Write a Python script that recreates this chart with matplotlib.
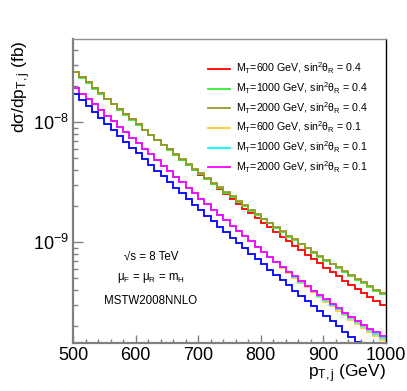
import matplotlib
matplotlib.use('Agg')
import matplotlib.pyplot as plt
import numpy as np
from matplotlib.ticker import FixedLocator, LogLocator, MultipleLocator, NullFormatter

plt.rcParams['font.family'] = ['Liberation Sans', 'DejaVu Sans']
plt.rcParams['mathtext.fontset'] = 'custom'
plt.rcParams['mathtext.rm'] = 'Liberation Sans'
plt.rcParams['mathtext.it'] = 'Liberation Sans:italic'

# p_T,j bins (GeV), 10 GeV wide
bin_edges = np.arange(500, 1001, 10)

# dsigma/dp_T,j in units of 1e-10 fb
mt600_s04 = [263, 237, 214, 193, 174, 157, 142, 128, 116, 105,
             95.4, 86.6, 78.6, 71.4, 64.9, 59.1, 53.6, 48.6, 44.2, 40.1,
             36.5, 33.2, 30.2, 27.4, 25.0, 22.8, 20.8, 19.0, 17.4, 15.9,
             14.5, 13.3, 12.1, 11.1, 10.1, 9.33, 8.56, 7.85, 7.21, 6.63,
             6.09, 5.61, 5.17, 4.77, 4.39, 4.06, 3.75, 3.46, 3.20, 2.96]
mt1000_s04 = [259, 233, 211, 190, 171, 155, 140, 126, 114, 103,
              94.0, 85.3, 77.4, 70.3, 63.9, 58.2, 53.0, 48.3, 44.0, 40.2,
              36.7, 33.6, 30.7, 28.1, 25.7, 23.6, 21.7, 19.9, 18.3, 16.8,
              15.5, 14.3, 13.1, 12.1, 11.1, 10.3, 9.54, 8.83, 8.17, 7.56,
              7.01, 6.51, 6.05, 5.61, 5.22, 4.87, 4.53, 4.22, 3.94, 3.67]
mt2000_s04 = [263, 237, 214, 193, 174, 157, 142, 128, 116, 105,
              95.4, 86.6, 78.6, 71.4, 64.9, 59.1, 53.8, 49.0, 44.7, 40.8,
              37.3, 34.1, 31.2, 28.5, 26.1, 24.0, 22.0, 20.2, 18.6, 17.1,
              15.7, 14.5, 13.3, 12.3, 11.3, 10.5, 9.69, 8.96, 8.29, 7.68,
              7.12, 6.61, 6.14, 5.70, 5.30, 4.94, 4.60, 4.28, 4.00, 3.73]
mt600_s01 = [191, 172, 155, 140, 126, 113, 102, 91.5, 82.3, 73.9,
             66.5, 59.7, 53.7, 48.2, 43.4, 39.0, 35.1, 31.5, 28.4, 25.5,
             23.0, 20.7, 18.6, 16.8, 15.2, 13.7, 12.4, 11.2, 10.1, 9.13,
             8.25, 7.46, 6.76, 6.13, 5.56, 5.05, 4.59, 4.18, 3.81, 3.48,
             3.18, 2.91, 2.66, 2.45, 2.25, 2.07, 1.91, 1.77, 1.64, 1.52]
mt1000_s01 = [191, 172, 155, 140, 126, 113, 102, 91.5, 82.3, 73.9,
              66.5, 59.7, 53.7, 48.2, 43.4, 39.0, 35.1, 31.5, 28.4, 25.5,
              23.0, 20.7, 18.6, 16.8, 15.2, 13.7, 12.4, 11.2, 10.1, 9.16,
              8.29, 7.51, 6.81, 6.19, 5.62, 5.12, 4.66, 4.26, 3.89, 3.57,
              3.27, 3.00, 2.75, 2.53, 2.33, 2.15, 1.99, 1.85, 1.72, 1.59]
mt2000_s01 = [191, 172, 155, 140, 126, 113, 102, 91.5, 82.3, 73.9,
              66.5, 59.7, 53.7, 48.2, 43.4, 39.0, 35.1, 31.5, 28.4, 25.5,
              23.0, 20.7, 18.6, 16.8, 15.2, 13.7, 12.4, 11.2, 10.12, 9.17,
              8.31, 7.54, 6.85, 6.23, 5.67, 5.17, 4.71, 4.31, 3.94, 3.62,
              3.32, 3.05, 2.80, 2.58, 2.38, 2.20, 2.04, 1.90, 1.77, 1.64]
# extra curve drawn in blue (no legend entry)
blue_curve = [171, 152, 136, 121, 108, 96.2, 85.9, 76.7, 68.5, 61.3,
              54.8, 49.1, 43.9, 39.3, 35.3, 31.6, 28.4, 25.5, 22.9, 20.5,
              18.5, 16.6, 14.9, 13.4, 12.1, 10.9, 9.83, 8.86, 8.00, 7.22,
              6.52, 5.89, 5.32, 4.81, 4.35, 3.93, 3.56, 3.23, 2.92, 2.65,
              2.40, 2.18, 1.98, 1.79, 1.63, 1.48, 1.35, 1.22, 1.11, 1.01]
unit = 1e-10

labels = ['M$_\\mathregular{T}$=600 GeV, sin$^\\mathregular{2}$θ$_\\mathregular{R}$ = 0.4',
          'M$_\\mathregular{T}$=1000 GeV, sin$^\\mathregular{2}$θ$_\\mathregular{R}$ = 0.4',
          'M$_\\mathregular{T}$=2000 GeV, sin$^\\mathregular{2}$θ$_\\mathregular{R}$ = 0.4',
          'M$_\\mathregular{T}$=600 GeV, sin$^\\mathregular{2}$θ$_\\mathregular{R}$ = 0.1',
          'M$_\\mathregular{T}$=1000 GeV, sin$^\\mathregular{2}$θ$_\\mathregular{R}$ = 0.1',
          'M$_\\mathregular{T}$=2000 GeV, sin$^\\mathregular{2}$θ$_\\mathregular{R}$ = 0.1']
series = [mt600_s04, mt1000_s04, mt2000_s04, mt600_s01, mt1000_s01, mt2000_s01]
colors = ['#ff0000', '#33ee33', '#99992a', '#ffcc33', '#00ffff', '#ff00ff']

ymin, ymax = 1.44e-10, 4.92e-8

fig = plt.figure(figsize=(4.07, 3.91), dpi=100)
ax = fig.add_axes([73 / 407, 48 / 391, 313 / 407, 304 / 391])

# ROOT draws bins below the minimum on the axis line
for vals, col, lab in zip(series, colors, labels):
    y = np.maximum(np.array(vals) * unit, ymin)
    ax.stairs(y, bin_edges, baseline=None, color=col, lw=1.3, label=lab)
y = np.maximum(np.array(blue_curve) * unit, ymin)
ax.stairs(y, bin_edges, baseline=None, color='#0000ff', lw=1.3)

ax.set_yscale('log')
ax.set_xlim(500, 1000)
ax.set_ylim(ymin, ymax)

ax.xaxis.set_major_locator(MultipleLocator(100))
ax.xaxis.set_minor_locator(MultipleLocator(20))
ax.yaxis.set_major_locator(FixedLocator([1e-9, 1e-8]))
ax.yaxis.set_minor_locator(LogLocator(base=10, subs=np.arange(2, 10), numticks=20))
ax.yaxis.set_minor_formatter(NullFormatter())
ax.tick_params(which='both', direction='in', top=False, right=False,
               color='#808080', width=1.0, labelsize=13)
ax.tick_params(axis='x', which='major', length=6, pad=3)
ax.tick_params(axis='x', which='minor', length=3)
ax.tick_params(axis='y', which='major', length=7, pad=3)
ax.tick_params(axis='y', which='minor', length=3.5)

for s in ['left', 'bottom']:
    ax.spines[s].set_color('#808080')
    ax.spines[s].set_linewidth(1.6)
ax.spines['top'].set_color('#909090')
ax.spines['top'].set_linewidth(1.0)
ax.spines['right'].set_color('black')
ax.spines['right'].set_linewidth(1.0)

fig.text(22 / 407, 1 - 40 / 391, 'dσ/dp$_\\mathregular{T,j}$ (fb)', rotation=90,
         ha='center', va='top', fontsize=12.5)
fig.text(386 / 407, 1 - 374 / 391, 'p$_\\mathregular{T,j}$ (GeV)',
         ha='right', va='center', fontsize=12.5)

ax.legend(loc='upper left', bbox_to_anchor=(208 / 407, 1 - 61 / 391),
          bbox_transform=fig.transFigure, frameon=False, fontsize=7.7,
          borderpad=0, borderaxespad=0, handlelength=2.1, handletextpad=0.55,
          labelspacing=0.40)

fig.text(151 / 407, 1 - 257 / 391, '√s = 8 TeV', ha='center', va='center', fontsize=8.3)
fig.text(151 / 407, 1 - 278 / 391, 'μ$_\\mathregular{F}$ = μ$_\\mathregular{R}$ = m$_\\mathregular{H}$',
         ha='center', va='center', fontsize=8.3)
fig.text(151 / 407, 1 - 301 / 391, 'MSTW2008NNLO', ha='center', va='center', fontsize=8.3)

fig.savefig('out.png', dpi=100)
